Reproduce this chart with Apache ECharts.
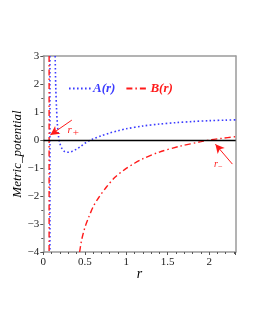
<!DOCTYPE html>
<html><head><meta charset="utf-8">
<script src="https://cdn.jsdelivr.net/npm/echarts@6/dist/echarts.min.js"></script>
<style>html,body{margin:0;padding:0;background:#fff}#c{width:255px;height:330px}</style>
</head><body><div id="c"></div>
<script>
// A(r) curve
const aR = [0.143,0.150,0.160,0.170,0.185,0.200,0.220,0.250,0.280,0.310,0.350,0.400,0.450,0.500,0.550,0.600,0.700,0.800,0.900,1.000,1.200,1.400,1.600,1.800,2.000,2.200,2.320];
const aV = [3.00,1.90,1.10,0.55,0.10,-0.12,-0.28,-0.40,-0.44,-0.44,-0.40,-0.33,-0.23,-0.12,-0.03,0.04,0.15,0.25,0.33,0.40,0.50,0.57,0.62,0.66,0.69,0.71,0.72];
// B(r) curve
const bR = [0.438,0.460,0.482,0.510,0.542,0.602,0.663,0.764,0.864,0.984,1.100,1.200,1.400,1.650,1.900,2.000,2.150,2.320];
const bV = [-4.00,-3.60,-3.33,-3.05,-2.80,-2.38,-2.08,-1.67,-1.33,-1.05,-0.83,-0.67,-0.43,-0.22,-0.06,0.00,0.06,0.12];
// vertical asymptotes
const aPoleR = [0.080,0.080], aPoleV = [3,-4];
const bPoleR = [0.070,0.070], bPoleV = [3,-4];
const yTicks = [-4,-3,-2,-1,0,1,2,3];
const xTicks = [0,0.5,1,1.5,2];

const BLUE = '#3c3cff', RED = '#ff1a1a', FRAME = '#9a9a9a';
const SERIF = 'Liberation Serif';
const zip = (r, v) => r.map((x, i) => [x, v[i]]);
const dashDot = [6,3,1.5,3];

const chart = echarts.init(document.getElementById('c'), null, {renderer:'canvas'});
chart.setOption({
  animation:false,
  backgroundColor:'#fff',
  grid:{left:43.3,right:19.3,top:56,bottom:78,containLabel:false},
  legend:{
    data:[{name:'A(r)',textStyle:{color:BLUE}},{name:'B(r)',textStyle:{color:RED}}],
    left:63, top:77, itemWidth:22, itemHeight:12, itemGap:10,
    itemStyle:{color:'transparent',borderWidth:0,opacity:0},
    textStyle:{fontFamily:SERIF,fontStyle:'italic',fontWeight:'bold',fontSize:13,padding:[0,0,0,-3]}
  },
  xAxis:[{
    type:'value', min:0, max:2.32, interval:0.5, position:'bottom',
    name:'r', nameLocation:'middle', nameGap:15, nameMoveOverlap:false,
    nameTextStyle:{fontFamily:SERIF,fontStyle:'italic',fontSize:14,color:'#000'},
    axisLine:{onZero:false,lineStyle:{color:FRAME,width:1.5}},
    axisTick:{show:true,inside:false,length:3,lineStyle:{color:'#555'}},
    minorTick:{show:true,splitNumber:5,length:2,lineStyle:{color:'#555'}},
    axisLabel:{fontFamily:SERIF,fontSize:11,color:'#222',margin:5,
      formatter:v=>xTicks.includes(v)?String(v):''},
    splitLine:{show:false}
  },{
    type:'value', min:0, max:2.32, position:'top',
    axisLine:{onZero:false,lineStyle:{color:FRAME,width:1.5}},
    axisTick:{show:false}, axisLabel:{show:false}, splitLine:{show:false}
  }],
  yAxis:[{
    type:'value', min:-4, max:3, interval:1, position:'left',
    name:'Metric_potential', nameLocation:'middle', nameGap:19, nameRotate:90, nameMoveOverlap:false,
    nameTextStyle:{fontFamily:SERIF,fontStyle:'italic',fontSize:13,color:'#000'},
    axisLine:{onZero:false,lineStyle:{color:FRAME,width:1.5}},
    axisTick:{show:true,inside:false,length:3,lineStyle:{color:'#555'}},
    minorTick:{show:true,splitNumber:2,length:2,lineStyle:{color:'#555'}},
    axisLabel:{fontFamily:SERIF,fontSize:11,color:'#222',margin:4,
      formatter:v=>yTicks.includes(v)?String(v).replace('-','\u2212'):''},
    splitLine:{show:false}
  },{
    type:'value', min:-4, max:3, position:'right',
    axisLine:{onZero:false,lineStyle:{color:FRAME,width:1.5}},
    axisTick:{show:false}, axisLabel:{show:false}, splitLine:{show:false}
  }],
  series:[
    {name:'zero', type:'line', data:[], silent:true,
     markLine:{silent:true,symbol:['none','none'],label:{show:false},
       lineStyle:{color:'#000',width:1.3,type:'solid'},data:[{yAxis:0}]}},
    {name:'A(r)', type:'line', data:zip(aR,aV), showSymbol:false, symbol:'none', smooth:0.3,
     lineStyle:{color:BLUE,width:1.6,type:[1.6,2.4]}, itemStyle:{color:BLUE}, clip:true},
    {name:'B(r)', type:'line', data:zip(bR,bV), showSymbol:false, symbol:'none', smooth:0.3,
     lineStyle:{color:RED,width:1.4,type:dashDot}, itemStyle:{color:RED}, clip:true,
     markLine:{silent:true,symbol:['none','arrow'],symbolSize:[7,9],label:{show:false},
       lineStyle:{color:RED,width:1,type:'solid'},
       data:[
         [{coord:[0.344,0.71]},{coord:[0.085,0.18]}],
         [{coord:[2.28,-0.86]},{coord:[2.075,-0.15]}]
       ]},
     markPoint:{silent:true,symbol:'circle',symbolSize:0,
       data:[
         {coord:[0.36,0.36],label:{show:true,formatter:'{r|r}{s|+}',rich:{
           r:{fontFamily:SERIF,fontStyle:'italic',fontSize:11,color:RED},
           s:{fontFamily:SERIF,fontSize:11,color:RED,padding:[6,0,0,1]}}}},
         {coord:[2.11,-0.86],label:{show:true,formatter:'{r|r}{s|\u2212}',rich:{
           r:{fontFamily:SERIF,fontStyle:'italic',fontSize:10,color:RED},
           s:{fontFamily:SERIF,fontSize:8,color:RED,padding:[5,0,0,0]}}}}
       ]}},
    {name:'Apole', type:'line', data:zip(aPoleR,aPoleV), showSymbol:false, symbol:'none',
     lineStyle:{color:BLUE,width:1.6,type:[1.6,2.4]}},
    {name:'Bpole', type:'line', data:zip(bPoleR,bPoleV), showSymbol:false, symbol:'none',
     lineStyle:{color:RED,width:1.4,type:dashDot}}
  ]
});
</script></body></html>
